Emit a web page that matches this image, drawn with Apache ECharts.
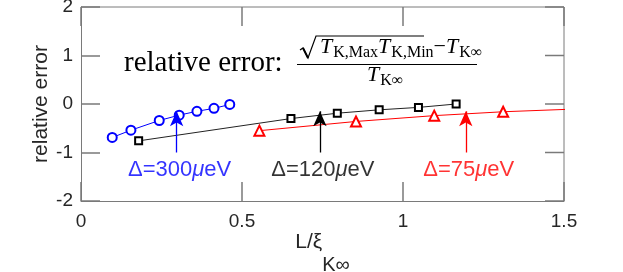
<!DOCTYPE html>
<html><head><meta charset="utf-8">
<script src="https://cdn.jsdelivr.net/npm/echarts@6/dist/echarts.min.js"></script>
<style>html,body{margin:0;padding:0;background:#fff}#c{width:623px;height:272px}</style>
</head><body><div id="c"></div>
<script>
// ---- data ----
const xTickVals = [0, 0.5, 1, 1.5];
const yTickVals = [-2, -1, 0, 1, 2];
const xTickLabels = ['0', '0.5', '1', '1.5'];
const yTickLabels = ['-2', '-1', '0', '1', '2'];
const blueX = [0.097, 0.155, 0.243, 0.305, 0.360, 0.413, 0.462];
const blueY = [-0.69, -0.54, -0.34, -0.23, -0.15, -0.09, -0.01];
const blackX = [0.179, 0.652, 0.796, 0.926, 1.048, 1.165];
const blackY = [-0.76, -0.30, -0.19, -0.12, -0.07, 0.0];
const redX = [0.554, 0.854, 1.097, 1.311, 1.55];
const redY = [-0.55, -0.36, -0.24, -0.16, -0.10];
const arrowX = [0.297, 0.742, 1.195];
const arrowFrom = [-1.0, -1.0, -1.0];
const arrowTo = [-0.15, -0.15, -0.15];
const labelNames = ['300', '120', '75'];
const labelY = [-1.35, -1.35, -1.35];
const colors = ['#0000ff', '#000000', '#ff0000'];

const SANS = 'Liberation Sans, Arial, Helvetica, sans-serif';
const SERIF = 'Liberation Serif, Times New Roman, serif';
const AX = '#7a7a7a';
const TXT = '#262626';
const TICK_LEN = 19;
const X_MIN = 0, X_MAX = 1.5, Y_MIN = -2, Y_MAX = 2;

function zip(xs, ys) { return xs.map((x, i) => [x, ys[i]]); }

function arrowLine(i) {
  return {
    silent: true, symbol: ['none', 'arrow'], symbolSize: [10, 15],
    lineStyle: { color: colors[i], width: 1.3, type: 'solid' },
    label: { show: false },
    data: [[{ coord: [arrowX[i], arrowFrom[i]] }, { coord: [arrowX[i], arrowTo[i]] }]]
  };
}

// mirrored inside ticks on the top and right edges, placed through the axes' scales
function topTick(params, api) {
  const p = api.coord([api.value(0), api.value(1)]);
  return { type: 'line', shape: { x1: p[0], y1: p[1], x2: p[0], y2: p[1] + TICK_LEN }, style: { stroke: AX, lineWidth: 1.5 } };
}
function rightTick(params, api) {
  const p = api.coord([api.value(0), api.value(1)]);
  return { type: 'line', shape: { x1: p[0], y1: p[1], x2: p[0] - TICK_LEN, y2: p[1] }, style: { stroke: AX, lineWidth: 1.5 } };
}
function frame(params, api) {
  const a = api.coord([X_MIN, Y_MAX]), b = api.coord([X_MAX, Y_MIN]);
  return { type: 'polyline', shape: { points: [[a[0], a[1]], [b[0], a[1]], [b[0], b[1]]] }, style: { stroke: AX, lineWidth: 1, fill: null } };
}

const chart = echarts.init(document.getElementById('c'), null, { renderer: 'canvas' });
const option = {
  animation: false,
  grid: { left: 81, top: 7, right: 59, bottom: 71, outerBoundsMode: 'none' },
  xAxis: {
    type: 'value', min: X_MIN, max: X_MAX, interval: 0.5,
    splitLine: { show: false },
    axisLine: { show: true, onZero: false, lineStyle: { color: AX, width: 1 } },
    axisTick: { show: true, inside: true, length: TICK_LEN, lineStyle: { color: AX, width: 1.5 } },
    axisLabel: { margin: 11, color: TXT, fontSize: 19, fontFamily: SANS,
      formatter: (v) => xTickLabels[xTickVals.indexOf(Math.round(v * 10) / 10)] },
    name: '{m|L/ξ}{s|K∞}', nameLocation: 'middle', nameGap: 31, nameMoveOverlap: false,
    nameTextStyle: { color: TXT, fontSize: 21, fontFamily: SANS, verticalAlign: 'top',
      rich: {
        m: { fontSize: 21, fontFamily: SANS, color: TXT, verticalAlign: 'bottom', padding: [0, 0, 22, 0] },
        s: { fontSize: 20, fontFamily: SANS, color: TXT, verticalAlign: 'bottom' }
      } }
  },
  yAxis: {
    type: 'value', min: Y_MIN, max: Y_MAX, interval: 1,
    splitLine: { show: false },
    axisLine: { show: true, onZero: false, lineStyle: { color: AX, width: 1 } },
    axisTick: { show: true, inside: true, length: TICK_LEN, lineStyle: { color: AX, width: 1.5 } },
    axisLabel: { margin: 8, color: TXT, fontSize: 19, fontFamily: SANS,
      formatter: (v) => yTickLabels[yTickVals.indexOf(Math.round(v))] },
    name: 'relative error', nameLocation: 'middle', nameGap: 29, nameRotate: 90, nameMoveOverlap: false,
    nameTextStyle: { color: TXT, fontSize: 21, fontFamily: SANS }
  },
  series: [
    { type: 'custom', renderItem: frame, silent: true, data: [[X_MIN, Y_MIN]] },
    { type: 'custom', renderItem: topTick, silent: true, data: xTickVals.map((v) => [v, Y_MAX]) },
    { type: 'custom', renderItem: rightTick, silent: true, data: yTickVals.map((v) => [X_MAX, v]) },
    { type: 'line', name: 'b', data: zip(blueX, blueY), symbol: 'emptyCircle', symbolSize: 9,
      lineStyle: { color: colors[0], width: 1 }, itemStyle: { color: colors[0], borderWidth: 1 },
      markLine: arrowLine(0), z: 3 },
    { type: 'line', name: 'k', data: zip(blackX, blackY), symbol: 'emptyRect', symbolSize: 7,
      lineStyle: { color: '#222', width: 1 }, itemStyle: { color: colors[1], borderWidth: 1 },
      markLine: arrowLine(1), z: 3 },
    { type: 'line', name: 'r', data: zip(redX, redY), symbol: 'emptyTriangle', symbolSize: 10,
      lineStyle: { color: colors[2], width: 1 }, itemStyle: { color: colors[2], borderWidth: 1 },
      clip: true, markLine: arrowLine(2), z: 3 },
    { type: 'scatter', symbolSize: 0, silent: true, z: 5,
      data: arrowX.map((x, i) => ({
        value: [x, labelY[i]],
        label: {
          show: true, position: 'inside', offset: [3, 0], color: colors[i],
          fontSize: 22, fontFamily: SANS,
          formatter: 'Δ=' + labelNames[i] + '{mu|μ}eV',
          rich: { mu: { fontSize: 22, fontStyle: 'italic', fontFamily: SANS, color: colors[i] } }
        }
      }))
    }
  ],
  graphic: [
    { type: 'text', left: 124, top: 49, silent: true,
      style: { text: 'relative error:', fontSize: 29, fontFamily: SERIF, fill: '#000' } },
    { type: 'polyline', silent: true,
      shape: { points: [[300, 50], [303, 48], [308, 58], [316, 36], [424, 36]] },
      style: { stroke: '#000', lineWidth: 1.2, fill: null } },
    { type: 'line', silent: true, shape: { x1: 303, y1: 48, x2: 308, y2: 58 },
      style: { stroke: '#000', lineWidth: 2 } },
    { type: 'text', x: 320, y: 61, silent: true,
      style: {
        text: '{T|T}{s|K,Max}{T|T}{s|K,Min}{m|−}{T|T}{s|K∞}', verticalAlign: 'bottom', fill: '#000',
        rich: {
          T: { fontSize: 22, fontStyle: 'italic', fontFamily: SERIF, verticalAlign: 'bottom', padding: [0, 1, 3, 0] },
          m: { fontSize: 22, fontFamily: SERIF, verticalAlign: 'bottom', padding: [0, 0, 3, 0] },
          s: { fontSize: 16, fontFamily: SERIF, verticalAlign: 'bottom' }
        }
      } },
    { type: 'line', silent: true, shape: { x1: 297, y1: 64.5, x2: 477, y2: 64.5 },
      style: { stroke: '#000', lineWidth: 1 } },
    { type: 'text', x: 367, y: 89, silent: true,
      style: {
        text: '{T|T}{s|K∞}', verticalAlign: 'bottom', fill: '#000',
        rich: {
          T: { fontSize: 22, fontStyle: 'italic', fontFamily: SERIF, verticalAlign: 'bottom', padding: [0, 1, 3, 0] },
          s: { fontSize: 16, fontFamily: SERIF, verticalAlign: 'bottom' }
        }
      } }
  ]
};
chart.setOption(option);
</script></body></html>
